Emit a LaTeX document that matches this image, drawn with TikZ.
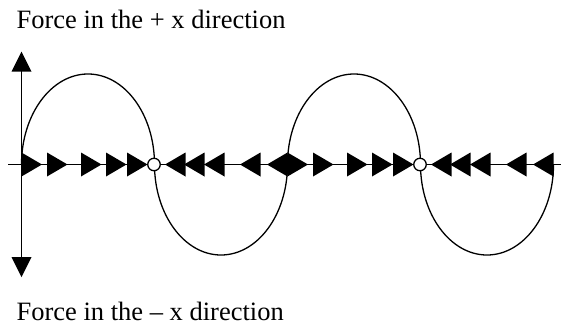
\documentclass[tikz,border=0pt]{standalone}
\usepackage{fontspec}
\setmainfont{Liberation Serif}
\begin{document}
\begin{tikzpicture}[x=1pt,y=1pt,line width=1.3pt,
  lbl/.style={anchor=base west,inner sep=0pt,font=\fontsize{26.5}{30}\selectfont},
  ring/.style={draw=black,fill=white,line width=1.3pt},
  wave/.style={x radius=66.5,y radius=90.5}]
\useasboundingbox (0,0) rectangle (561,325);
\node[lbl] (top) at (16,297) {Force in the + x direction};
\node[lbl] (bot) at (16,4.3) {Force in the – x direction};
% horizontal axis
\coordinate (xa) at (8,160.5);
\coordinate (xb) at (561,160.5);
\draw (xa) -- (xb);
% wave
\draw (21.5,160.5) arc[start angle=180,end angle=0,wave]
  arc[start angle=180,end angle=360,wave]
  arc[start angle=180,end angle=0,wave]
  arc[start angle=180,end angle=360,wave];
% triangles
\foreach \o in {0,266}{
  \foreach \b in {21.5,47,81,106,127}
    \fill (\b+\o,148.5) -- (\b+\o+20.5,160.5) -- (\b+\o,172.5) -- cycle;
  \foreach \t in {165,184,204,240,267}
    \fill (\t+\o,160.5) -- (\t+\o+20.5,172.5) -- (\t+\o+20.5,148.5) -- cycle;
}
% equilibrium points
\node[ring,circle,minimum size=12.5pt,inner sep=0pt] (e1) at (154,160.5) {};
\node[ring,circle,minimum size=12.5pt,inner sep=0pt] (e2) at (420,160.5) {};
% vertical axis
\coordinate (ya) at (21.5,66);
\coordinate (yb) at (21.5,256);
\draw (ya) -- (yb);
\fill (21.5,273.3) -- (11.5,253.3) -- (31.5,253.3) -- cycle;
\fill (21.5,48) -- (11.5,68) -- (31.5,68) -- cycle;
\end{tikzpicture}
\end{document}
